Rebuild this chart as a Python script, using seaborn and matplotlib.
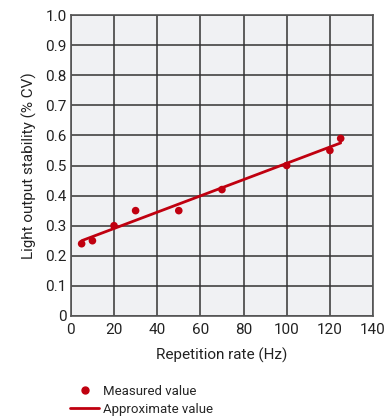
import numpy as np
import seaborn as sns
import matplotlib.pyplot as plt
from matplotlib.lines import Line2D

# measured points
rate_hz = [5, 10, 20, 30, 50, 70, 100, 120, 125]
stability = [0.24, 0.25, 0.30, 0.35, 0.35, 0.42, 0.50, 0.55, 0.59]

# approximate (linear fit) line end points
fit_x = [5, 125]
fit_y = [0.25, 0.575]

x_ticks = [0, 20, 40, 60, 80, 100, 120, 140]
y_ticks = [0, 0.1, 0.2, 0.3, 0.4, 0.5, 0.6, 0.7, 0.8, 0.9, 1.0]
y_labels = ["0", "0.1", "0.2", "0.3", "0.4", "0.5", "0.6", "0.7", "0.8", "0.9", "1.0"]

red = "#c0000f"

sns.set_style("white")
plt.rcParams["font.family"] = ["Roboto", "DejaVu Sans"]

fig = plt.figure(figsize=(3.85, 4.19), dpi=100)
ax = fig.add_axes([0.184, 0.246, 0.785, 0.718])
ax.set_facecolor("#f0f1f3")

sns.lineplot(x=fit_x, y=fit_y, ax=ax, color=red, linewidth=2, zorder=3)
sns.scatterplot(x=rate_hz, y=stability, ax=ax, color=red, s=30,
                edgecolor="none", zorder=4)

ax.set_xlim(0, 140)
ax.set_ylim(0, 1.0)
ax.set_xticks(x_ticks)
ax.set_xticklabels([str(t) for t in x_ticks])
ax.set_yticks(y_ticks)
ax.set_yticklabels(y_labels)
ax.grid(True, color="#333333", linewidth=1.1)
ax.set_axisbelow(True)
for s in ax.spines.values():
    s.set_color("#555555")
    s.set_linewidth(1.2)
ax.tick_params(axis="x", pad=5)
ax.tick_params(axis="y", pad=3)
ax.tick_params(axis="both", labelsize=11, colors="#222222", length=0)

ax.set_xlabel("Repetition rate (Hz)", fontsize=11, color="#222222", labelpad=8)
ax.set_ylabel("Light output stability (% CV)", fontsize=11, color="#222222", labelpad=6)

handles = [
    Line2D([], [], marker="o", linestyle="none", color=red, markersize=5),
    Line2D([], [], color=red, linewidth=2),
]
fig.legend(handles, ["Measured value", "Approximate value"],
           loc="upper left", bbox_to_anchor=(0.165, 0.097), frameon=False,
           fontsize=9.5, handlelength=2.2, handletextpad=0.3, labelspacing=0.35,
           borderpad=0)

fig.savefig("out.png", dpi=100)
